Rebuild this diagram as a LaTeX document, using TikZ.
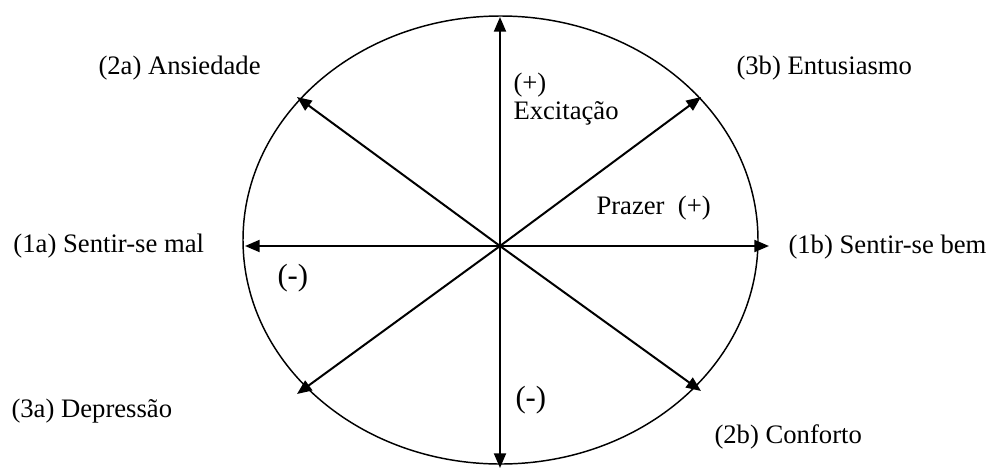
\documentclass[tikz,border=0pt]{standalone}
\usepackage{fontspec}
\setmainfont{Liberation Serif}
\usetikzlibrary{arrows.meta}

\tikzset{every picture/.style={line width=0.75pt}}
\tikzset{
  axisarrow/.style={line width=1.5, -{Triangle[length=11pt,width=9pt]}},
  emolabel/.style={anchor=west, inner sep=0.75pt, font=\fontsize{20}{24}\selectfont},
  signlabel/.style={anchor=west, inner sep=0.75pt, font=\fontsize{23}{27}\selectfont},
}

\begin{document}
\begin{tikzpicture}[x=0.75pt,y=0.75pt,yscale=-1,xscale=1]
\useasboundingbox (0,0) rectangle (990,469);

%Ellipse
\draw [line width=1.1] (500.5,240) ellipse (257.5 and 224);

%Arrow ends
\coordinate (O) at (500,246);
\coordinate (up) at (500,17);
\coordinate (down) at (500,468);
\coordinate (left) at (245,246);
\coordinate (right) at (769,246);
\coordinate (upleft) at (297,97);
\coordinate (upright) at (701,97);
\coordinate (downleft) at (297,394);
\coordinate (downright) at (701,391);

%Straight Lines
\foreach \e in {up,down,left,right,upleft,upright,downleft,downright}
  \draw [axisarrow] (O) -- (\e);

% Text Node
\node [emolabel] (ansiedade) at (97,68) {(2a) Ansiedade};
% Text Node
\node [emolabel] (entusiasmo) at (735,68) {(3b) Entusiasmo};
% Text Node
\node [emolabel] (sentirmal) at (12,246) {(1a) Sentir-se mal};
% Text Node
\node [emolabel] (sentirbem) at (787,247) {(1b) Sentir-se bem};
% Text Node
\node [emolabel] (depressao) at (10,411) {(3a) Depressão};
% Text Node
\node [emolabel] (conforto) at (713,437) {(2b) Conforto};
% Text Node
\node [emolabel] (excplus) at (512,85) {(+)};
% Text Node
\node [emolabel] (excitacao) at (512,113) {Excitação};
% Text Node
\node [emolabel] (prazer) at (595,208) {Prazer\ \ (+)};
% Text Node
\node [signlabel] (prazerminus) at (276,278) {(-)};
% Text Node
\node [signlabel] (excminus) at (514,400) {(-)};

\end{tikzpicture}
\end{document}
